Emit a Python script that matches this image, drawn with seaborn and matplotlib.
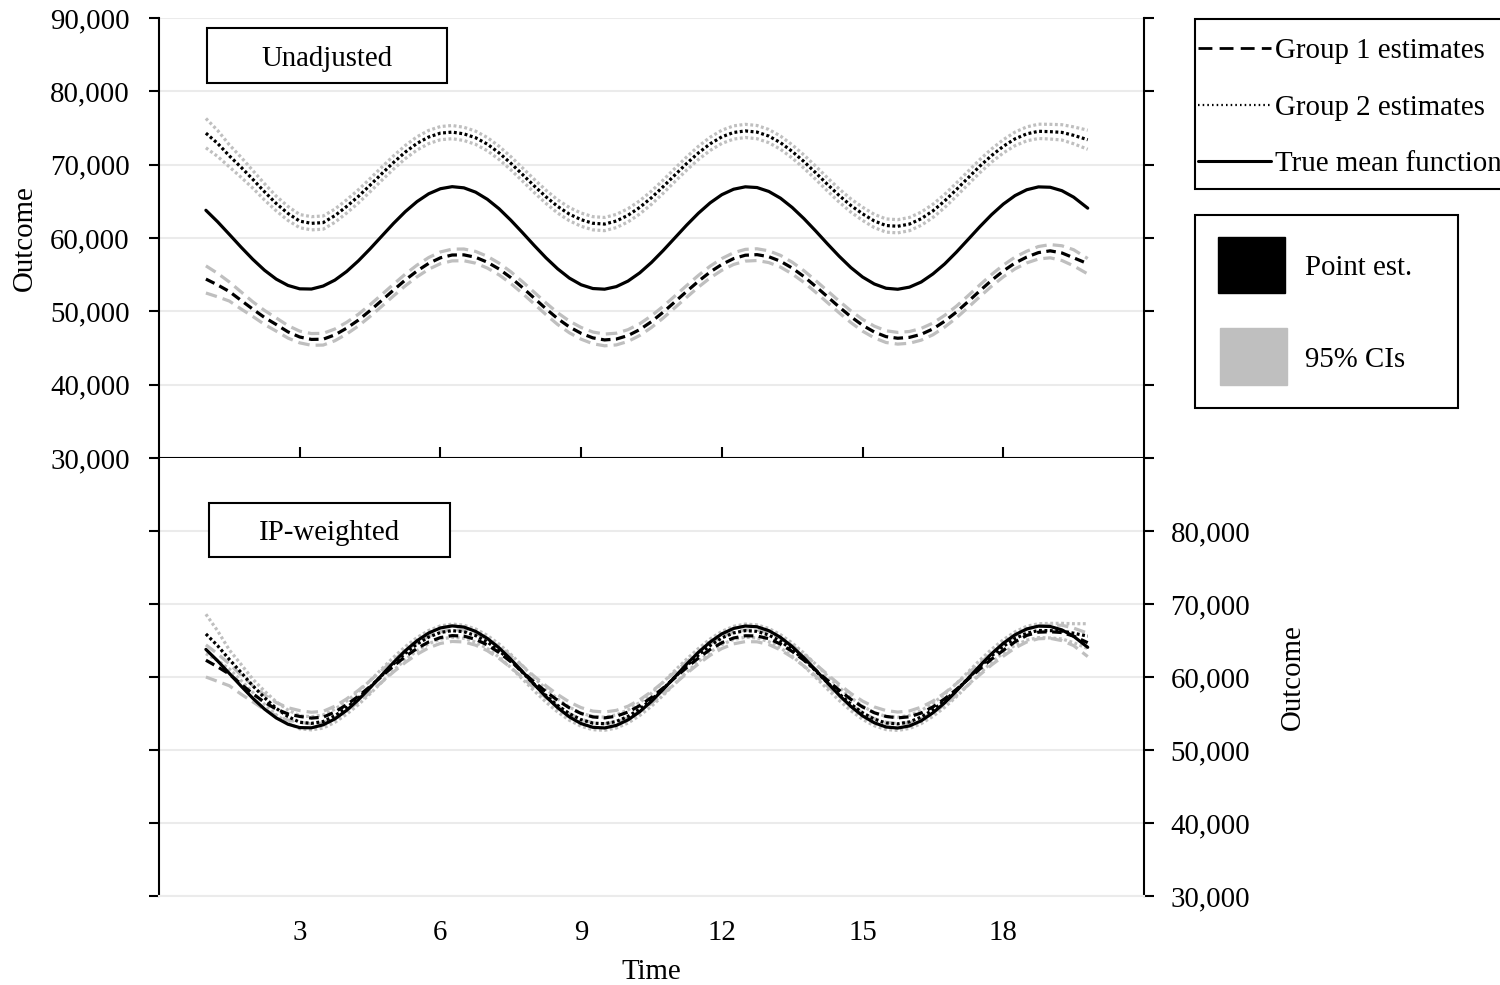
import matplotlib
matplotlib.use("Agg")
import matplotlib.pyplot as plt
import seaborn as sns
from matplotlib.lines import Line2D
from matplotlib.patches import Rectangle
from matplotlib.ticker import FixedLocator, FuncFormatter

# ---------------------------------------------------------------- data
# one row per time unit: t, t+0.25, t+0.5, t+0.75
time = [1.0, 1.25, 1.5, 1.75, 2.0, 2.25, 2.5, 2.75, 3.0, 3.25, 3.5, 3.75,
        4.0, 4.25, 4.5, 4.75, 5.0, 5.25, 5.5, 5.75, 6.0, 6.25, 6.5, 6.75,
        7.0, 7.25, 7.5, 7.75, 8.0, 8.25, 8.5, 8.75, 9.0, 9.25, 9.5, 9.75,
        10.0, 10.25, 10.5, 10.75, 11.0, 11.25, 11.5, 11.75, 12.0, 12.25, 12.5, 12.75,
        13.0, 13.25, 13.5, 13.75, 14.0, 14.25, 14.5, 14.75, 15.0, 15.25, 15.5, 15.75,
        16.0, 16.25, 16.5, 16.75, 17.0, 17.25, 17.5, 17.75, 18.0, 18.25, 18.5, 18.75,
        19.0, 19.25, 19.5, 19.8]

true_mean = [63780, 62210, 60490, 58750, 57090, 55600, 54390, 53530, 53070, 53040, 53450, 54260,
             55430, 56880, 58520, 60260, 61990, 63590, 64960, 66030, 66720, 67000, 66840, 66250,
             65280, 63990, 62430, 60730, 58980, 57300, 55790, 54530, 53620, 53110, 53020, 53370,
             54130, 55250, 56670, 58300, 60030, 61760, 63380, 64790, 65910, 66650, 66980, 66880,
             66350, 65430, 64160, 62640, 60960, 59210, 57520, 55970, 54680, 53730, 53150, 53010,
             53300, 54000, 55100, 56460, 58070, 59800, 61540, 63180, 64620, 65780, 66580, 66970,
             66920, 66450, 65570, 64070]

# Unadjusted estimates
unadj_g1 = [54400, 53600, 52700, 51490, 50300, 49160, 48200, 47200, 46500, 46170, 46200, 46790,
            47700, 48800, 50100, 51490, 52900, 54270, 55500, 56540, 57300, 57680, 57700, 57370,
            56700, 55770, 54600, 53240, 51800, 50350, 49000, 47870, 47000, 46380, 46100, 46220,
            46700, 47510, 48600, 49890, 51300, 52720, 54100, 55360, 56400, 57190, 57650, 57730,
            57450, 56830, 55900, 54740, 53400, 52000, 50600, 49270, 48100, 47180, 46550, 46330,
            46450, 46870, 47600, 48650, 49900, 51330, 52800, 54220, 55500, 56590, 57400, 58010,
            58250, 57960, 57300, 56500]
unadj_g1_hi = [56200, 55180, 54000, 52650, 51300, 50120, 49100, 48050, 47300, 46970, 47000, 47590,
               48500, 49600, 50900, 52290, 53700, 55070, 56300, 57340, 58100, 58480, 58500, 58170,
               57500, 56570, 55400, 54040, 52600, 51150, 49800, 48670, 47800, 47180, 46900, 47020,
               47500, 48310, 49400, 50690, 52100, 53520, 54900, 56160, 57200, 57990, 58450, 58530,
               58250, 57630, 56700, 55540, 54200, 52800, 51400, 50070, 48900, 47980, 47350, 47130,
               47250, 47670, 48400, 49450, 50700, 52130, 53600, 55020, 56300, 57390, 58200, 58840,
               59100, 58940, 58400, 57200]
unadj_g1_lo = [52500, 51980, 51400, 50320, 49300, 48210, 47300, 46350, 45700, 45370, 45400, 45990,
               46900, 48000, 49300, 50690, 52100, 53470, 54700, 55740, 56500, 56880, 56900, 56570,
               55900, 54970, 53800, 52440, 51000, 49550, 48200, 47070, 46200, 45580, 45300, 45420,
               45900, 46710, 47800, 49090, 50500, 51920, 53300, 54560, 55600, 56390, 56850, 56930,
               56650, 56030, 55100, 53940, 52600, 51200, 49800, 48470, 47300, 46380, 45750, 45530,
               45650, 46070, 46800, 47850, 49100, 50530, 52000, 53420, 54700, 55790, 56600, 57140,
               57300, 56930, 56200, 55100]
unadj_g2 = [74300, 72900, 71200, 69650, 68000, 66300, 64700, 63350, 62300, 62000, 62100, 63050,
            64300, 65670, 67200, 68770, 70300, 71710, 72900, 73770, 74300, 74440, 74200, 73670,
            72800, 71610, 70200, 68660, 67100, 65620, 64300, 63250, 62500, 62010, 61900, 62320,
            63100, 64180, 65500, 67010, 68600, 70160, 71600, 72840, 73800, 74390, 74600, 74440,
            73900, 73000, 71800, 70420, 68900, 67320, 65800, 64430, 63300, 62320, 61700, 61600,
            61900, 62630, 63700, 65050, 66600, 68200, 69800, 71240, 72500, 73520, 74200, 74550,
            74500, 74400, 74000, 73400]
unadj_g2_hi = [76300, 74670, 72700, 71010, 69200, 67400, 65700, 64300, 63200, 62910, 63000, 63940,
               65200, 66570, 68100, 69670, 71200, 72610, 73800, 74670, 75200, 75340, 75100, 74570,
               73700, 72510, 71100, 69560, 68000, 66520, 65200, 64150, 63400, 62910, 62800, 63220,
               64000, 65080, 66400, 67910, 69500, 71060, 72500, 73740, 74700, 75290, 75500, 75340,
               74800, 73900, 72700, 71320, 69800, 68220, 66700, 65330, 64200, 63220, 62600, 62500,
               62800, 63530, 64600, 65950, 67500, 69100, 70700, 72140, 73400, 74440, 75150, 75520,
               75500, 75450, 75150, 74700]
unadj_g2_lo = [72300, 71120, 69700, 68280, 66800, 65180, 63700, 62400, 61400, 61110, 61200, 62140,
               63400, 64770, 66300, 67870, 69400, 70810, 72000, 72870, 73400, 73540, 73300, 72770,
               71900, 70710, 69300, 67760, 66200, 64720, 63400, 62350, 61600, 61110, 61000, 61420,
               62200, 63280, 64600, 66110, 67700, 69260, 70700, 71940, 72900, 73490, 73700, 73540,
               73000, 72100, 70900, 69520, 68000, 66420, 64900, 63530, 62400, 61420, 60800, 60700,
               61000, 61730, 62800, 64150, 65700, 67300, 68900, 70340, 71600, 72590, 73250, 73570,
               73500, 73360, 72850, 72100]

# IP-weighted estimates
ipw_g1 = [62300, 61390, 60400, 59020, 57700, 56540, 55600, 54940, 54600, 54370, 54500, 55200,
          56200, 57370, 58700, 60100, 61500, 62790, 63900, 64800, 65400, 65670, 65600, 65160,
          64400, 63350, 62100, 60720, 59300, 57990, 56800, 55770, 55000, 54530, 54400, 54630,
          55200, 56080, 57200, 58500, 59900, 61290, 62600, 63770, 64700, 65340, 65650, 65620,
          65250, 64510, 63500, 62300, 60950, 59560, 58200, 56950, 55900, 55100, 54600, 54400,
          54550, 55070, 55900, 57010, 58300, 59690, 61100, 62450, 63650, 64820, 65700, 66140,
          66200, 66090, 65600, 64700]
ipw_g1_hi = [64400, 63170, 61800, 60280, 58800, 57550, 56500, 55790, 55400, 55170, 55300, 56000,
             57000, 58170, 59500, 60900, 62300, 63590, 64700, 65600, 66200, 66470, 66400, 65960,
             65200, 64150, 62900, 61520, 60100, 58790, 57600, 56570, 55800, 55330, 55200, 55430,
             56000, 56880, 58000, 59300, 60700, 62090, 63400, 64570, 65500, 66140, 66450, 66420,
             66050, 65310, 64300, 63100, 61750, 60360, 59000, 57750, 56700, 55900, 55400, 55200,
             55350, 55870, 56700, 57810, 59100, 60490, 61900, 63250, 64450, 65650, 66550, 67020,
             67100, 67090, 66700, 66000]
ipw_g1_lo = [60000, 59400, 58800, 57650, 56600, 55540, 54700, 54090, 53800, 53570, 53700, 54400,
             55400, 56570, 57900, 59300, 60700, 61990, 63100, 64000, 64600, 64870, 64800, 64360,
             63600, 62550, 61300, 59920, 58500, 57190, 56000, 54970, 54200, 53730, 53600, 53830,
             54400, 55280, 56400, 57700, 59100, 60490, 61800, 62970, 63900, 64540, 64850, 64820,
             64450, 63710, 62700, 61500, 60150, 58760, 57400, 56150, 55100, 54300, 53800, 53600,
             53750, 54270, 55100, 56210, 57500, 58890, 60300, 61650, 62850, 63970, 64800, 65240,
             65300, 64980, 64300, 62800]
ipw_g2 = [65900, 64280, 62400, 60620, 58800, 57160, 55700, 54580, 53800, 53650, 53900, 54690,
          55800, 57110, 58600, 60210, 61800, 63250, 64500, 65470, 66100, 66350, 66200, 65680,
          64800, 63610, 62200, 60620, 59000, 57470, 56100, 54970, 54150, 53680, 53600, 53910,
          54600, 55620, 56900, 58400, 60000, 61550, 63000, 64310, 65350, 66040, 66350, 66250,
          65750, 64900, 63750, 62380, 60850, 59250, 57700, 56290, 55100, 54220, 53700, 53580,
          53850, 54510, 55500, 56750, 58200, 59790, 61400, 62890, 64200, 65260, 66000, 66370,
          66350, 66300, 66000, 65600]
ipw_g2_hi = [68600, 66320, 63700, 61730, 59700, 58060, 56600, 55480, 54700, 54550, 54800, 55590,
             56700, 58010, 59500, 61110, 62700, 64150, 65400, 66370, 67000, 67250, 67100, 66580,
             65700, 64510, 63100, 61520, 59900, 58370, 57000, 55870, 55050, 54580, 54500, 54810,
             55500, 56510, 57800, 59300, 60900, 62450, 63900, 65210, 66250, 66940, 67250, 67140,
             66650, 65800, 64650, 63270, 61750, 60150, 58600, 57190, 56000, 55120, 54600, 54480,
             54750, 55410, 56400, 57650, 59100, 60690, 62300, 63790, 65100, 66190, 66950, 67300,
             67350, 67350, 67300, 67300]
ipw_g2_lo = [63200, 62250, 61100, 59510, 57900, 56260, 54800, 53680, 52900, 52760, 53000, 53790,
             54900, 56210, 57700, 59310, 60900, 62350, 63600, 64570, 65200, 65450, 65300, 64780,
             63900, 62710, 61300, 59720, 58100, 56570, 55200, 54070, 53250, 52780, 52700, 53010,
             53700, 54720, 56000, 57500, 59100, 60650, 62100, 63410, 64450, 65140, 65450, 65350,
             64850, 64000, 62850, 61480, 59950, 58350, 56800, 55390, 54200, 53320, 52800, 52680,
             52950, 53610, 54600, 55850, 57300, 58900, 60500, 61990, 63300, 64340, 65050, 65400,
             65350, 65220, 64700, 63900]

y_ticks = [30000, 40000, 50000, 60000, 70000, 80000, 90000]
x_ticks = [3, 6, 9, 12, 15, 18]

# ---------------------------------------------------------------- style
sns.set_theme(style="white")
plt.rcParams["font.family"] = ["Liberation Serif", "DejaVu Serif"]
FS = 20.8
BLACK = "#000000"
GRAY = "#BFBFBF"
GRID = "#EBEBEB"
LW = 2.3
SPINE_LW = 1.5

DASH_BLACK = (0, (3.0, 1.7))
DASH_GRAY = (0, (3.6, 1.9))
DOT = (0, (0.9, 0.8))

W, H = 1500, 985
fig = plt.figure(figsize=(W / 100, H / 100), dpi=100)
fig.patch.set_facecolor("white")


def fx(px):
    return px / W


def fy(py):
    return 1 - py / H


LEFT, RIGHT = 159, 1144
TOP, MID, BOT = 18, 458, 896
ax_top = fig.add_axes([fx(LEFT), fy(MID), (RIGHT - LEFT) / W, (MID - TOP) / H])
ax_bot = fig.add_axes([fx(LEFT), fy(BOT), (RIGHT - LEFT) / W, (BOT - MID) / H])

panels = [
    (ax_top, [unadj_g1_lo, unadj_g1_hi, unadj_g2_lo, unadj_g2_hi, unadj_g1, unadj_g2]),
    (ax_bot, [ipw_g1_lo, ipw_g1_hi, ipw_g2_lo, ipw_g2_hi, ipw_g1, ipw_g2]),
]
series_style = [
    (GRAY, DASH_GRAY), (GRAY, DASH_GRAY),
    (GRAY, DOT), (GRAY, DOT),
    (BLACK, DASH_BLACK), (BLACK, DOT),
]

for ax, series in panels:
    ax.set_facecolor("white")
    for vals, (col, ls) in zip(series, series_style):
        sns.lineplot(x=time, y=vals, ax=ax, color=col, linestyle=ls,
                     linewidth=LW, errorbar=None, sort=False, legend=False)
    sns.lineplot(x=time, y=true_mean, ax=ax, color=BLACK, linestyle="-",
                 linewidth=LW, errorbar=None, sort=False, legend=False)
    ax.set_xlim(0, 21)
    ax.set_ylim(30000, 90000)
    ax.yaxis.set_major_locator(FixedLocator(y_ticks))
    ax.yaxis.grid(True, color=GRID, linewidth=1.5)
    ax.xaxis.grid(False)
    ax.set_axisbelow(True)
    for side in ["left", "right", "bottom", "top"]:
        ax.spines[side].set_color(BLACK)
        ax.spines[side].set_linewidth(SPINE_LW)
    ax.spines["top"].set_visible(False)
    ax.set_xlabel("")
    ax.set_ylabel("")

fmt = FuncFormatter(lambda v, p: f"{v:,.0f}")

# Top panel: labelled left axis, plain ticks on the right, crossing ticks on the shared time axis
ax_top.yaxis.set_major_formatter(fmt)
ax_top.tick_params(axis="y", which="major", left=True, right=True, labelleft=True,
                   labelright=False, direction="out", length=7, width=SPINE_LW,
                   labelsize=FS, pad=14, colors=BLACK)
ax_top.xaxis.set_major_locator(FixedLocator(x_ticks))
ax_top.tick_params(axis="x", bottom=True, labelbottom=False, direction="inout",
                   length=16, width=SPINE_LW, colors=BLACK)

# Bottom panel: labelled right axis up to 80,000
ax_bot.yaxis.set_major_locator(FixedLocator(y_ticks[:-1]))
ax_bot.yaxis.set_major_formatter(fmt)
ax_bot.tick_params(axis="y", left=True, right=True, labelleft=False, labelright=True,
                   direction="out", length=7, width=SPINE_LW, labelsize=FS, pad=12,
                   colors=BLACK)
ax_bot.xaxis.set_major_locator(FixedLocator(x_ticks))
ax_bot.tick_params(axis="x", bottom=False, labelbottom=True, labelsize=FS, pad=11,
                   colors=BLACK)
ax_bot.spines["bottom"].set_color(GRID)

# axis titles
ax_top.set_ylabel("Outcome", fontsize=FS, color=BLACK)
ax_top.yaxis.set_label_coords((25 - LEFT) / (RIGHT - LEFT), 0.5)
ax_top.yaxis.label.set_va("center")
ax_bot.set_ylabel("Outcome", fontsize=FS, color=BLACK)
ax_bot.yaxis.set_label_position("right")
ax_bot.yaxis.set_label_coords((1293 - LEFT) / (RIGHT - LEFT), 0.5)
ax_bot.yaxis.label.set_va("center")
ax_bot.yaxis.label.set_rotation(90)
ax_bot.set_xlabel("Time", fontsize=FS, color=BLACK)
ax_bot.xaxis.set_label_coords(0.5, -(972 - BOT) / (BOT - MID))
ax_bot.xaxis.label.set_va("center")

# text placed with va="center" sits a little high; nudge it down
TXT_DY = 3


# ---------------------------------------------------------------- panel titles
def boxed_title(x0, y0, x1, y1, text):
    fig.add_artist(Rectangle((fx(x0), fy(y1)), (x1 - x0) / W, (y1 - y0) / H,
                             transform=fig.transFigure, facecolor="white",
                             edgecolor=BLACK, linewidth=SPINE_LW, zorder=5))
    fig.text(fx((x0 + x1) / 2), fy((y0 + y1) / 2 + TXT_DY), text, ha="center",
             va="center", fontsize=FS, color=BLACK, zorder=6)


boxed_title(207, 28, 447, 83, "Unadjusted")
boxed_title(209, 503, 450, 557, "IP-weighted")

# ---------------------------------------------------------------- keys
fig.add_artist(Rectangle((fx(1195), fy(189)), 340 / W, (189 - 19) / H,
                         transform=fig.transFigure, facecolor="white",
                         edgecolor=BLACK, linewidth=SPINE_LW))
line_keys = [
    (48, (0, (5.0, 2.6)), "Group 1 estimates", 2.0),
    (105, (0, (0.7, 1.4)), "Group 2 estimates", 1.6),
    (161, "-", "True mean function", 2.2),
]
for yy, ls, label, lw in line_keys:
    fig.add_artist(Line2D([fx(1198), fx(1271)], [fy(yy), fy(yy)],
                          transform=fig.transFigure, color=BLACK, linestyle=ls,
                          linewidth=lw))
    fig.text(fx(1275), fy(yy + TXT_DY), label, ha="left", va="center", fontsize=FS,
             color=BLACK)

fig.add_artist(Rectangle((fx(1195), fy(408)), (1458 - 1195) / W, (408 - 215) / H,
                         transform=fig.transFigure, facecolor="white",
                         edgecolor=BLACK, linewidth=SPINE_LW))
patch_keys = [
    (1218, 237, 1285, 293, BLACK, "Point est."),
    (1220, 328, 1287, 385, GRAY, "95% CIs"),
]
for x0, y0, x1, y1, col, label in patch_keys:
    fig.add_artist(Rectangle((fx(x0), fy(y1)), (x1 - x0) / W, (y1 - y0) / H,
                             transform=fig.transFigure, facecolor=col,
                             edgecolor=col, linewidth=1))
    fig.text(fx(1305), fy((y0 + y1) / 2 + TXT_DY), label, ha="left", va="center",
             fontsize=FS, color=BLACK)

fig.savefig("out.png", dpi=100, facecolor="white")
